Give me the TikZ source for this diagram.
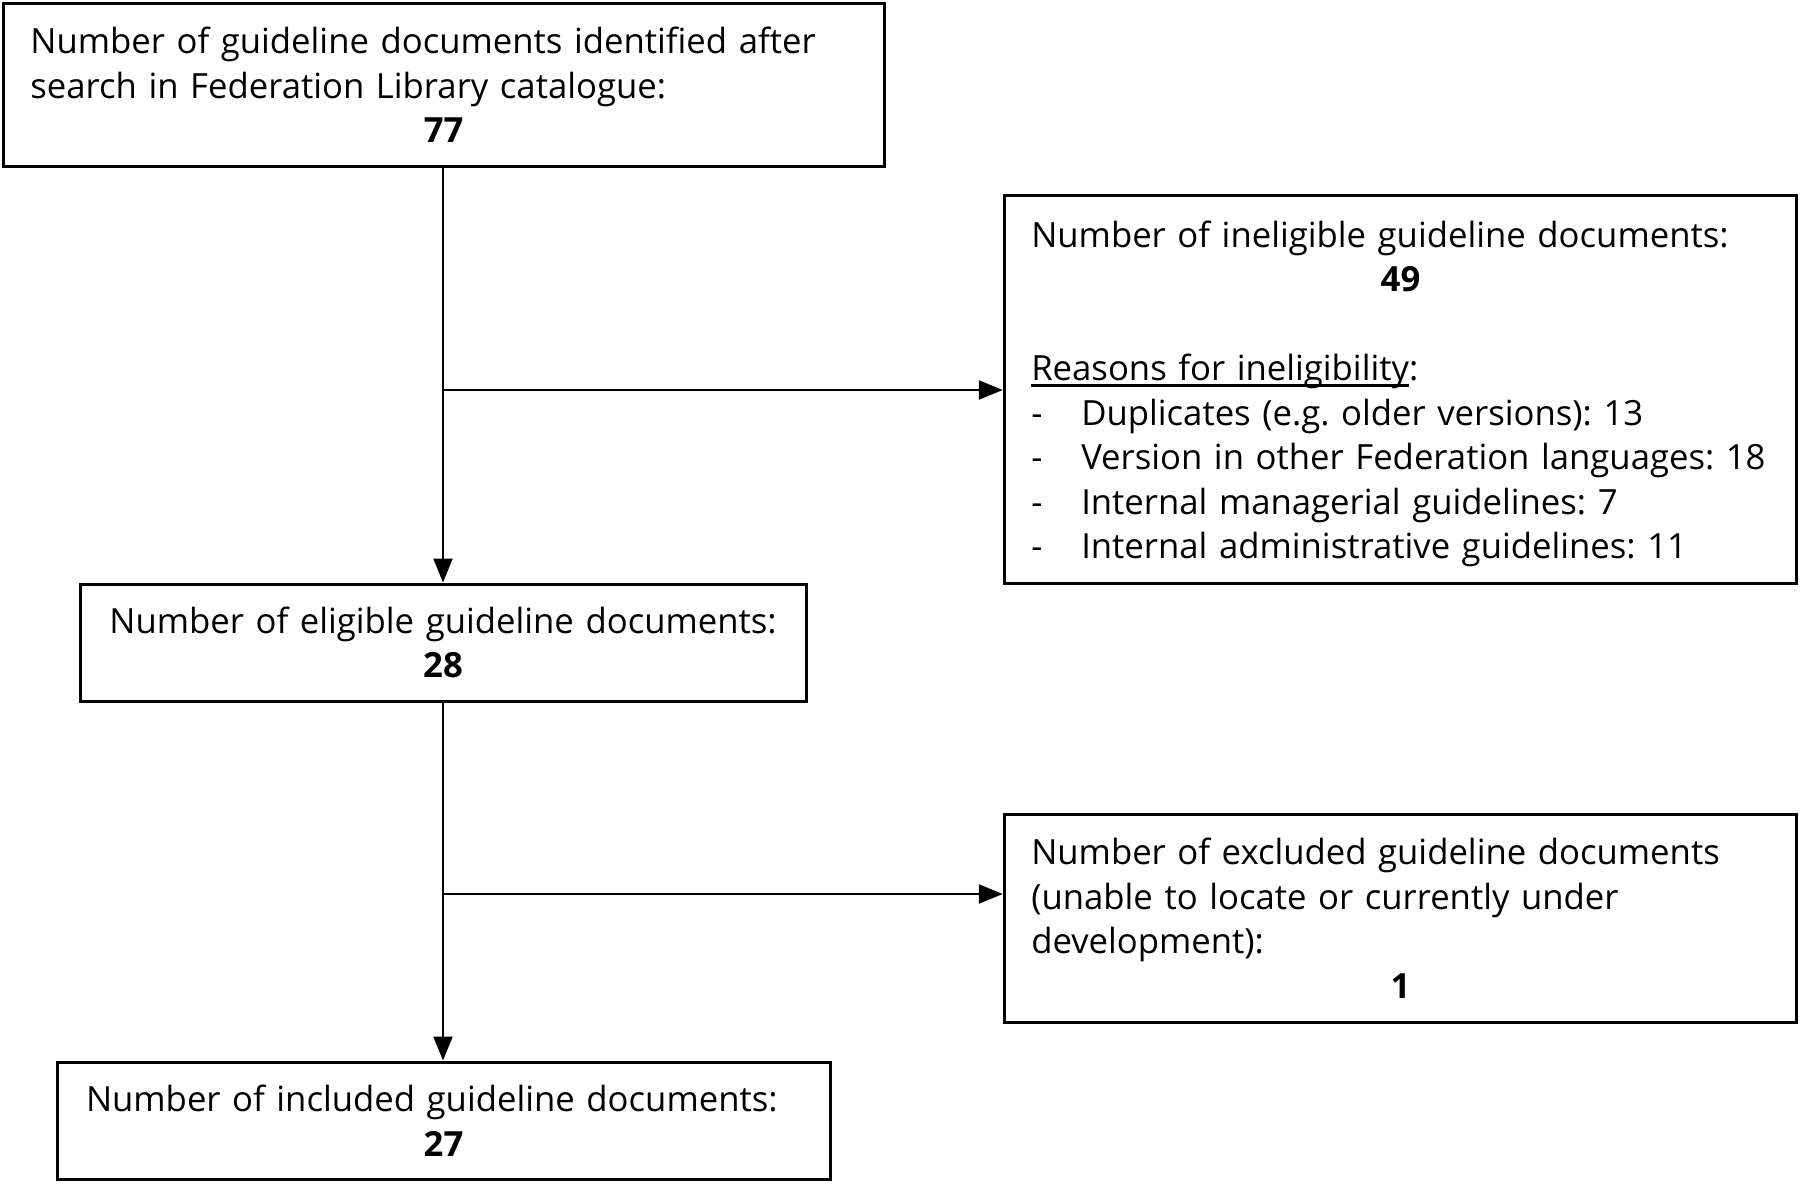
\documentclass[tikz,border=0pt]{standalone}
\usepackage{fontspec}
\setmainfont[Ligatures=NoCommon]{Open Sans}
\usetikzlibrary{arrows.meta}
\frenchspacing
\newcommand\myul[1]{\leavevmode\setbox0\hbox{#1}\rlap{\rule[-6pt]{\wd0}{2.2pt}}\box0}
\begin{document}
\begin{tikzpicture}[x=1pt,y=-1pt,
  box/.style={draw, line width=3pt, inner xsep=27pt, inner ysep=0pt,
    font=\fontsize{34.7}{44.5}\selectfont\frenchspacing},
  conn/.style={line width=2.2pt, -{Triangle[length=24pt,width=19pt]}},
]
\useasboundingbox (0,0) rectangle (1800,1184);

\node[box, minimum width=880.6pt, minimum height=163pt, text width=826.6pt, align=left] (top) at (443.7,85)
  {Number of guideline documents identified after\\
   search in Federation Library catalogue:\\
   \makebox[\hsize]{\bfseries 77}};

\node[box, minimum width=792.5pt, minimum height=388pt, text width=738.5pt, align=left] (ineleg) at (1400.5,389)
  {\rule{0pt}{36pt}Number of ineligible guideline documents:\\
   \makebox[\hsize]{\bfseries 49}\\[44.5pt]
   \myul{Reasons for ineligibility}:\\
   \makebox[50pt][l]{-}Duplicates (e.g. older versions): 13\\
   \makebox[50pt][l]{-}Version in other Federation languages: 18\\
   \makebox[50pt][l]{-}Internal managerial guidelines: 7\\
   \makebox[50pt][l]{-}Internal administrative guidelines: 11};

\node[box, minimum width=726pt, minimum height=117pt, text width=672pt, align=center] (eleg) at (443,642.5)
  {Number of eligible guideline documents:\\
   {\bfseries 28}};

\node[box, minimum width=792.5pt, minimum height=208pt, text width=738.5pt, align=left] (excl) at (1400.5,918)
  {Number of excluded guideline documents\\
   (unable to locate or currently under\\
   development):\\
   \makebox[\hsize]{\bfseries 1}};

\node[box, inner xsep=29pt, minimum width=773pt, minimum height=117pt, text width=715pt, align=left] (incl) at (443.5,1120.5)
  {Number of included guideline documents:\\
   \makebox[\hsize]{\bfseries 27}};

\coordinate (j1) at (443,390);
\coordinate (j2) at (443,894);

\draw[conn] (top.south -| j1) -- (eleg.north -| j1);
\draw[conn] (eleg.south -| j2) -- (incl.north -| j2);
\draw[conn] (j1) -- (j1 -| ineleg.west);
\draw[conn] (j2) -- (j2 -| excl.west);
\end{tikzpicture}
\end{document}
